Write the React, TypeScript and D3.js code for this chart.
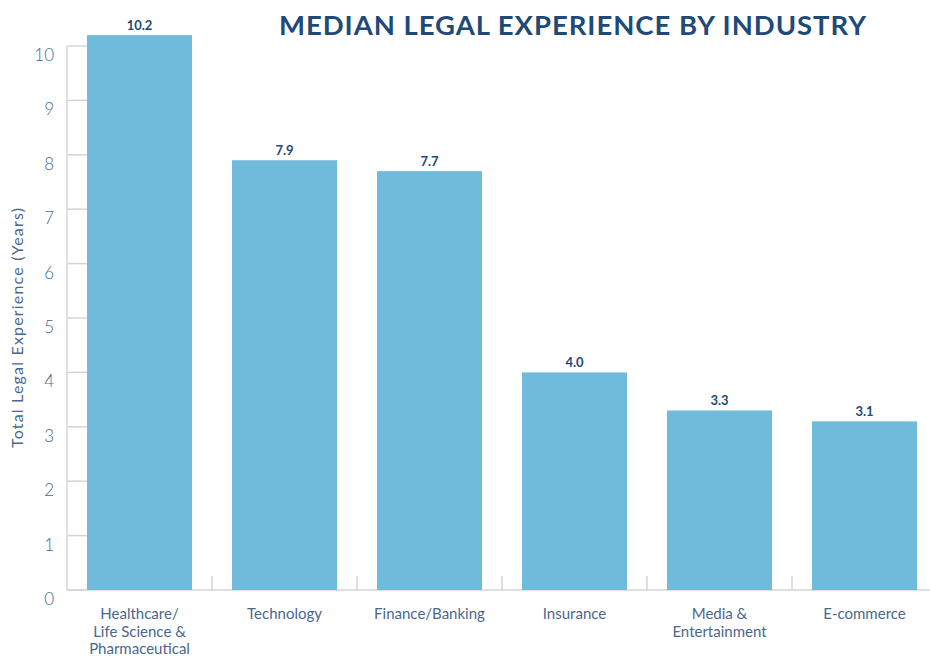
import React from "react";
import * as d3 from "d3";

const categories = [
  ["Healthcare/", "Life Science &", "Pharmaceutical"],
  ["Technology"],
  ["Finance/Banking"],
  ["Insurance"],
  ["Media &", "Entertainment"],
  ["E-commerce"],
];
const values = [10.2, 7.9, 7.7, 4.0, 3.3, 3.1];
const yTicks = [0, 1, 2, 3, 4, 5, 6, 7, 8, 9, 10];
const title = "MEDIAN LEGAL EXPERIENCE BY INDUSTRY";
const yLabel = "Total Legal Experience (Years)";

const W = 930;
const H = 656;
const left = 67;
const bandW = 145;
const baseY = 590;
const topY = 46;

export default function App() {
  const keys = categories.map((_, i) => String(i));
  const x = d3
    .scaleBand<string>()
    .domain(keys)
    .range([left, left + bandW * keys.length])
    .paddingInner(40 / 145)
    .paddingOuter(20 / 145);
  const y = d3.scaleLinear().domain([0, 10]).range([baseY, topY]);
  const font = "Lato, 'Noto Sans', sans-serif";
  const textCol = "#4a6790";
  const dark = "#1f4a78";
  const gray = "#d4d4d4";
  return (
    <svg
      width={W}
      height={H}
      style={{ position: "absolute", left: 0, top: 0, display: "block" }}
      fontFamily={font}
    >
      <rect width={W} height={H} fill="#fff" />
      <text
        x={573}
        y={35}
        textAnchor="middle"
        fontSize={27.5}
        fontWeight={700}
        fill={dark}
        letterSpacing={0.95}
      >
        {title}
      </text>
      {/* y axis line */}
      <line x1={left} x2={left} y1={topY} y2={baseY} stroke={gray} strokeWidth={1.5} />
      {yTicks.map((t) => (
        <g key={t}>
          <line x1={left} x2={left + 20} y1={y(t)} y2={y(t)} stroke={gray} strokeWidth={1.5} />
          <text
            x={54}
            y={y(t) + 15}
            textAnchor="end"
            fontSize={17}
            fontWeight={300}
            fill={textCol}
          >
            {t}
          </text>
        </g>
      ))}
      {/* baseline */}
      <line x1={left} x2={W} y1={baseY} y2={baseY} stroke={gray} strokeWidth={1.5} />
      {keys.slice(1).map((k, i) => {
        const bx = left + bandW * (i + 1);
        return (
          <line key={k} x1={bx} x2={bx} y1={baseY - 14} y2={baseY} stroke={gray} strokeWidth={1.5} />
        );
      })}
      {values.map((v, i) => {
        const k = keys[i];
        const bx = x(k)!;
        return (
          <g key={k}>
            <rect x={bx} y={y(v)} width={x.bandwidth()} height={baseY - y(v)} fill="#70bbdb" />
            <text
              x={bx + x.bandwidth() / 2}
              y={y(v) - 5}
              textAnchor="middle"
              fontSize={13}
              fontWeight={700}
              fill={dark}
            >
              {v.toFixed(1)}
            </text>
            {categories[i].map((line, j) => (
              <text
                key={j}
                x={bx + x.bandwidth() / 2}
                y={619 + j * 17.5}
                textAnchor="middle"
                fontSize={15}
                fill={textCol}
              >
                {line}
              </text>
            ))}
          </g>
        );
      })}
      <text
        transform={`translate(23, 328) rotate(-90)`}
        textAnchor="middle"
        fontSize={16}
        fill={textCol}
        textLength={240}
        lengthAdjust="spacing"
      >
        {yLabel}
      </text>
    </svg>
  );
}
